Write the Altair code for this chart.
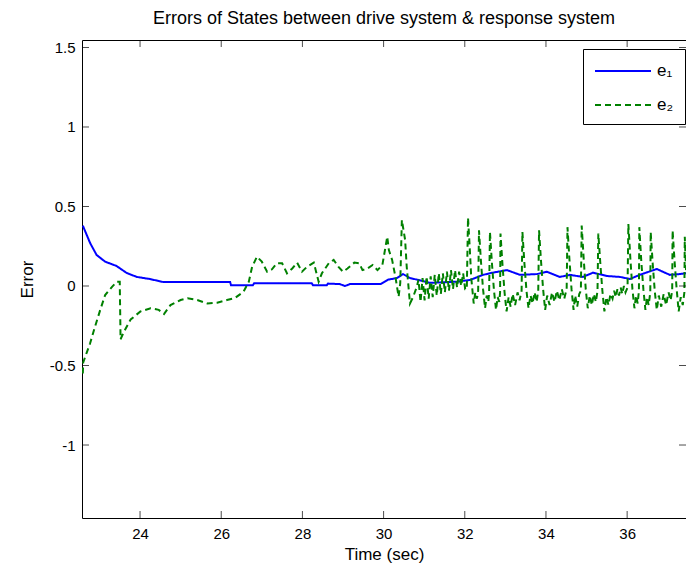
import altair as alt
import pandas as pd

# ---- data ----
e1_t = [22.59, 22.77, 22.93, 23.14, 23.42, 23.67, 23.92, 24.24, 24.57, 26.22, 26.24, 26.78, 26.81,
        28.23, 28.26, 28.60, 28.63, 28.92, 29.05, 29.17, 29.93, 30.11, 30.33, 30.48, 30.65, 30.82,
        31.14, 31.81, 32.13, 32.45, 32.69, 33.04, 33.36, 33.78, 34.02, 34.34, 34.59, 34.91, 35.16,
        35.50, 35.82, 36.07, 36.31, 36.73, 37.05, 37.30, 37.45]
e1_v = [0.38, 0.27, 0.195, 0.153, 0.126, 0.082, 0.057, 0.044, 0.025, 0.025, 0.005, 0.005, 0.017,
        0.017, 0.005, 0.005, 0.015, 0.012, 0.0, 0.012, 0.012, 0.04, 0.05, 0.075, 0.05, 0.04,
        0.02, 0.027, 0.038, 0.07, 0.084, 0.1, 0.07, 0.075, 0.09, 0.057, 0.07, 0.057, 0.084,
        0.063, 0.057, 0.044, 0.07, 0.107, 0.07, 0.075, 0.08]

e2_t = [22.59, 22.60, 22.77, 22.89, 23.02, 23.14, 23.31, 23.43, 23.50, 23.52, 23.60, 23.77, 24.01,
        24.26, 24.46, 24.59, 24.75, 25.00, 25.17, 25.41, 25.66, 25.90, 26.14, 26.34, 26.55, 26.68,
        26.76, 26.88, 27.00, 27.13, 27.25, 27.37, 27.50, 27.62, 27.75, 27.87, 27.99, 28.11, 28.28,
        28.40, 28.48, 28.65, 28.77, 28.89, 29.00, 29.11, 29.28, 29.40, 29.48, 29.60, 29.73, 29.85,
        29.97, 30.09, 30.13, 30.21, 30.29, 30.37, 30.41, 30.45, 30.53, 30.57, 30.65, 30.73, 30.82,
        30.86, 30.91, 30.96, 31.01, 31.06, 31.11, 31.16, 31.21, 31.26, 31.31, 31.36, 31.41, 31.46,
        31.51, 31.56, 31.61, 31.66, 31.71, 31.76, 31.81, 31.86, 31.91, 31.96, 32.01,
        32.05, 32.08, 32.12, 32.16, 32.22, 32.26, 32.30,
        32.33, 32.35, 32.40, 32.45, 32.50, 32.54, 32.58,
        32.60, 32.62, 32.67, 32.72, 32.77, 32.81, 32.85,
        32.87, 32.88, 32.93, 32.98, 33.03, 33.08, 33.13, 33.18, 33.24, 33.30, 33.35, 33.40,
        33.42, 33.47, 33.52, 33.57, 33.62, 33.67, 33.72, 33.77, 33.81,
        33.83, 33.88, 33.93, 33.98, 34.03, 34.09, 34.15, 34.21, 34.27, 34.33, 34.39, 34.45, 34.51,
        34.53, 34.58, 34.63, 34.68, 34.72, 34.77, 34.82, 34.86,
        34.88, 34.93, 34.98, 35.03, 35.08, 35.13, 35.18, 35.23, 35.27,
        35.29, 35.34, 35.39, 35.44, 35.49, 35.54, 35.59, 35.64, 35.68, 35.72, 35.76, 35.80, 35.84,
        35.88, 35.92, 35.96, 36.01,
        36.03, 36.08, 36.13, 36.18, 36.22, 36.26, 36.29,
        36.30, 36.35, 36.40, 36.45, 36.49, 36.53, 36.57,
        36.58, 36.63, 36.68, 36.73, 36.78, 36.84, 36.90, 36.96, 37.02, 37.07, 37.11,
        37.12, 37.17, 37.22, 37.27, 37.32, 37.37, 37.41,
        37.42, 37.45]
e2_v = [-0.55, -0.48, -0.36, -0.256, -0.15, -0.057, -0.005, 0.027, 0.027, -0.335, -0.29, -0.21, -0.16,
        -0.14, -0.15, -0.176, -0.12, -0.088, -0.077, -0.088, -0.11, -0.105, -0.088, -0.075, -0.036, 0.027,
        0.12, 0.184, 0.153, 0.09, 0.105, 0.143, 0.143, 0.08, 0.11, 0.147, 0.09, 0.12, 0.147,
        0.027, 0.08, 0.143, 0.164, 0.12, 0.09, 0.11, 0.147, 0.143, 0.10, 0.11, 0.132, 0.10,
        0.132, 0.31, 0.226, 0.164, 0.059, -0.067, 0.017, 0.415, 0.29, 0.12, -0.11, -0.067, -0.004,
        0.04, -0.10, 0.05, -0.09, 0.06, -0.08, 0.06, -0.07, 0.07, -0.06, 0.08, -0.05, 0.08,
        -0.04, 0.09, -0.03, 0.10, -0.02, 0.10, -0.01, 0.09, 0.0, 0.08, -0.02,
        -0.02, 0.43, 0.25, 0.05, -0.11, -0.04, -0.08,
        -0.03, 0.35, 0.15, -0.02, -0.14, -0.06, -0.10,
        -0.04, 0.34, 0.14, -0.03, -0.15, -0.07, -0.10,
        -0.04, 0.33, 0.13, -0.04, -0.16, -0.07, -0.13, -0.05, -0.12, -0.04, -0.09, -0.03,
        0.34, 0.14, -0.03, -0.14, -0.06, -0.11, -0.04, -0.10, -0.03,
        0.35, 0.15, -0.02, -0.15, -0.06, -0.12, -0.04, -0.10, -0.03, -0.09, -0.02, -0.08, -0.02,
        0.37, 0.16, -0.02, -0.15, -0.06, -0.13, -0.05, -0.03,
        0.38, 0.17, -0.02, -0.14, -0.06, -0.12, -0.05, -0.10, -0.03,
        0.33, 0.14, -0.03, -0.16, -0.07, -0.12, -0.05, -0.08, -0.03, -0.07, -0.02, -0.06, -0.01,
        -0.05, 0.0, -0.04, -0.01,
        0.39, 0.17, -0.02, -0.14, -0.06, -0.11, -0.03,
        0.37, 0.15, -0.02, -0.15, -0.07, -0.12, -0.04,
        0.34, 0.14, -0.03, -0.15, -0.06, -0.13, -0.05, -0.12, -0.04, -0.09, -0.03,
        0.35, 0.15, -0.02, -0.16, -0.07, -0.12, -0.04,
        0.31, 0.10]

series_names = ["e\u2081", "e\u2082"]
series_colors = ["#0000ff", "#008000"]
x_ticks = [24, 26, 28, 30, 32, 34, 36]
y_ticks = [-1, -0.5, 0, 0.5, 1, 1.5]
x_domain = [22.57, 37.45]
y_domain = [-1.459, 1.547]

W, H = 604, 478
FONT = "Liberation Sans"

df = pd.concat([
    pd.DataFrame({"t": e1_t, "v": e1_v, "s": series_names[0], "o": range(len(e1_t))}),
    pd.DataFrame({"t": e2_t, "v": e2_v, "s": series_names[1], "o": range(len(e2_t))}),
])

xs = alt.Scale(domain=x_domain, nice=False, zero=False)
ys = alt.Scale(domain=y_domain, nice=False, zero=False)

lines = alt.Chart(df).mark_line(strokeWidth=2, clip=True).encode(
    x=alt.X("t:Q", scale=xs, title="Time (sec)",
            axis=alt.Axis(values=x_ticks, ticks=False, domain=False, grid=False,
                          labelPadding=8, titlePadding=5)),
    y=alt.Y("v:Q", scale=ys, title="Error",
            axis=alt.Axis(values=y_ticks, ticks=False, domain=False, grid=False,
                          labelExpr="'' + datum.value",
                          labelPadding=7, titlePadding=13)),
    color=alt.Color("s:N", scale=alt.Scale(domain=series_names, range=series_colors),
                    legend=alt.Legend(title=None)),
    strokeDash=alt.StrokeDash("s:N", scale=alt.Scale(domain=series_names, range=[[1, 0], [6, 4]]),
                              legend=alt.Legend(title=None)),
    order="o:Q",
)

xt = pd.DataFrame({"t": x_ticks})
yt = pd.DataFrame({"v": y_ticks})
tick_bottom = alt.Chart(xt).mark_tick(orient="vertical", size=7, thickness=1, color="black").encode(
    x=alt.X("t:Q", scale=xs), y=alt.value(H - 3.5))
tick_top = alt.Chart(xt).mark_tick(orient="vertical", size=7, thickness=1, color="black").encode(
    x=alt.X("t:Q", scale=xs), y=alt.value(3.5))
tick_left = alt.Chart(yt).mark_tick(orient="horizontal", size=7, thickness=1, color="black").encode(
    y=alt.Y("v:Q", scale=ys), x=alt.value(3.5))
tick_right = alt.Chart(yt).mark_tick(orient="horizontal", size=7, thickness=1, color="black").encode(
    y=alt.Y("v:Q", scale=ys), x=alt.value(W - 3.5))

chart = alt.layer(lines, tick_bottom, tick_top, tick_left, tick_right).properties(
    width=W, height=H,
    title=alt.TitleParams("Errors of States between drive system & response system",
                          fontSize=18, font=FONT, fontWeight="normal", color="black",
                          offset=12, anchor="middle"),
    autosize=alt.AutoSizeParams(type="none"),
    padding={"left": 82, "top": 40, "right": 0, "bottom": 51},
).configure(background="white").configure_view(
    stroke="black", strokeWidth=1
).configure_axis(
    labelFont=FONT, titleFont=FONT, labelFontSize=15, titleFontSize=17,
    labelColor="black", titleColor="black", titleFontWeight="normal"
).configure_legend(
    orient="none", legendX=501, legendY=9, strokeColor="black", fillColor="white",
    padding=11, symbolType="M-1,0H4.6", symbolSize=400, symbolStrokeWidth=2,
    labelFont=FONT, labelFontSize=17, labelColor="black", rowPadding=15, labelOffset=41
)

chart.save("out.html", embed_options={"renderer": "svg", "actions": False})
